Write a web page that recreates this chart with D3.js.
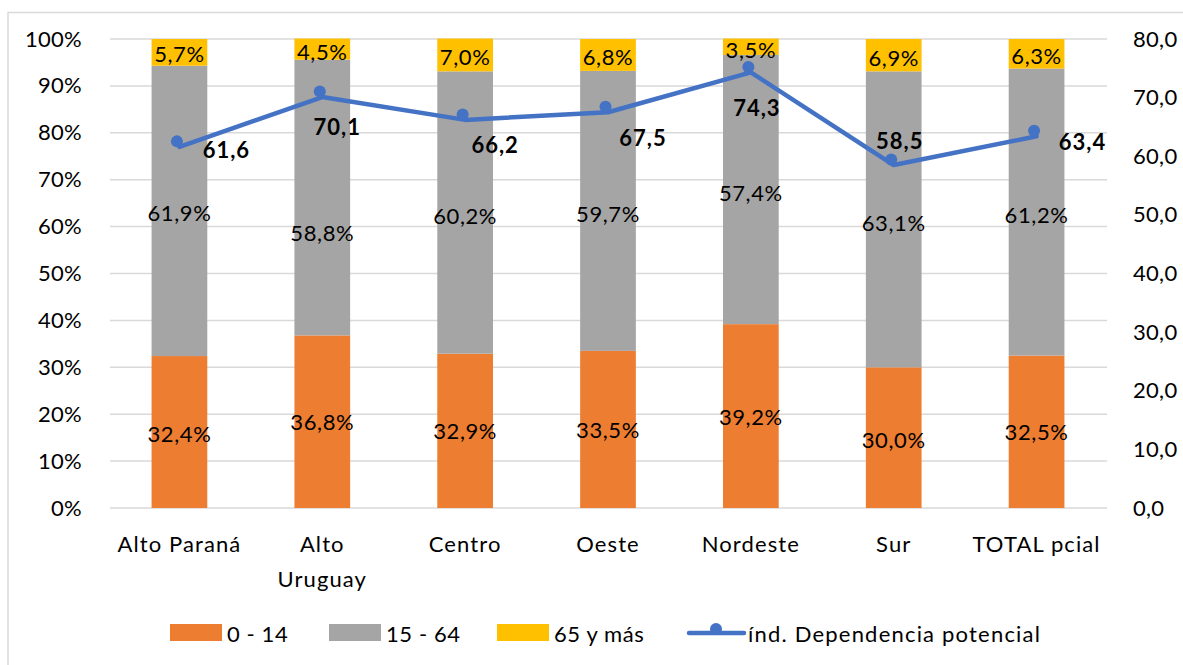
<!DOCTYPE html>
<html>
<head>
<meta charset="utf-8">
<script src="https://cdn.jsdelivr.net/npm/d3@7"></script>
<style>
  html, body { margin: 0; padding: 0; background: #fff; }
  svg { display: block; font-family: Lato, "Open Sans", sans-serif; }
</style>
</head>
<body>
<svg id="chart" width="1183" height="665"></svg>
<script>
// ---- data ----
const categories = ["Alto Paraná", "Alto Uruguay", "Centro", "Oeste", "Nordeste", "Sur", "TOTAL pcial"];
const age0_14   = [32.4, 36.8, 32.9, 33.5, 39.2, 30.0, 32.5];
const age15_64  = [61.9, 58.8, 60.2, 59.7, 57.4, 63.1, 61.2];
const age65plus = [5.7, 4.5, 7.0, 6.8, 3.5, 6.9, 6.3];
const dependencia = [61.6, 70.1, 66.2, 67.5, 74.3, 58.5, 63.4];
const leftTicks  = [0, 10, 20, 30, 40, 50, 60, 70, 80, 90, 100];
const rightTicks = [0, 10, 20, 30, 40, 50, 60, 70, 80];
const seriesNames = ["0 - 14", "15 - 64", "65 y más", "índ. Dependencia potencial"];

// ---- styling ----
const colors = { o: "#ED7D31", g: "#A5A5A5", y: "#FFC000", line: "#4472C4", grid: "#D9D9D9" };
// label placement of the line values (dx, dy) relative to the point
const lineLabelOffsets = [[47, 3], [15, 29], [30, 25], [35, 25], [6, 35], [6, -25], [46, 5]];
// manual vertical shift of bar-segment labels [layer][category]
const segLabelShift = [[1, 0, 0, 0, 0, 2, 0], [2, 35, 3, 3, 3, 3, 2], [1, 2, 2, 2, 3, 2, 2]];

const svg = d3.select("#chart");
const plot = { left: 108, right: 1108, top: 39, bottom: 508 };
const FS = 22;

// border
svg.append("rect").attr("x", 8).attr("y", 12.5).attr("width", 1200).attr("height", 700)
  .attr("fill", "none").attr("stroke", colors.grid).attr("stroke-width", 1.5);

const x = d3.scaleBand().domain(categories).range([plot.left, plot.right])
  .paddingInner(0.61).paddingOuter(0.305);
const y = d3.scaleLinear().domain([0, 100]).range([plot.bottom, plot.top]);
const y2 = d3.scaleLinear().domain([0, 80]).range([plot.bottom, plot.top]);

const fmt1 = v => d3.format(".1f")(v).replace(".", ",");

// gridlines
svg.append("g").selectAll("line").data(leftTicks).join("line")
  .attr("x1", plot.left + 2).attr("x2", plot.right - 1)
  .attr("y1", d => y(d)).attr("y2", d => y(d))
  .attr("stroke", colors.grid).attr("stroke-width", 1.5);

// left axis
const leftAxis = d3.axisLeft(y).tickValues(leftTicks).tickSize(0).tickPadding(0)
  .tickFormat(d => d + "%");
const gL = svg.append("g").attr("transform", `translate(82,0)`).call(leftAxis);
gL.select(".domain").remove();
gL.selectAll("text").attr("font-size", FS).attr("fill", "#000")
  .attr("font-family", "Lato, sans-serif").attr("letter-spacing", 0.3);

// right axis
const rightAxis = d3.axisRight(y2).tickValues(rightTicks).tickSize(0).tickPadding(0)
  .tickFormat(fmt1);
const gR = svg.append("g").attr("transform", `translate(1133,0)`).call(rightAxis);
gR.select(".domain").remove();
gR.selectAll("text").attr("font-size", FS).attr("fill", "#000")
  .attr("font-family", "Lato, sans-serif").attr("letter-spacing", 0.3);

// stacked bars
const rows = categories.map((c, i) => ({ cat: c, a: age0_14[i], b: age15_64[i], c65: age65plus[i] }));
const stack = d3.stack().keys(["a", "b", "c65"])(rows);
const segColors = [colors.o, colors.g, colors.y];

stack.forEach((layer, li) => {
  const g = svg.append("g");
  g.selectAll("rect").data(layer).join("rect")
    .attr("x", d => x(d.data.cat))
    .attr("width", x.bandwidth())
    .attr("y", d => y(d[1]))
    .attr("height", d => y(d[0]) - y(d[1]))
    .attr("fill", segColors[li]);
  g.selectAll("text").data(layer).join("text")
    .attr("x", d => x(d.data.cat) + x.bandwidth() / 2)
    .attr("y", (d, i) => (y(d[0]) + y(d[1])) / 2 + segLabelShift[li][i])
    .attr("text-anchor", "middle").attr("dominant-baseline", "central")
    .attr("font-size", FS).attr("letter-spacing", 0.6).attr("fill", "#000")
    .text(d => fmt1(d[1] - d[0]) + "%");
});

// category labels
const catG = svg.append("g");
categories.forEach(c => {
  const cx = x(c) + x.bandwidth() / 2;
  const lines = c === "Alto Uruguay" ? ["Alto", "Uruguay"] : [c];
  lines.forEach((t, k) => {
    catG.append("text").attr("x", cx).attr("y", 543 + k * 35)
      .attr("text-anchor", "middle").attr("dominant-baseline", "central")
      .attr("font-size", FS).attr("letter-spacing", 1.1).attr("fill", "#000").text(t);
  });
});

// line
const cxOf = i => x(categories[i]) + x.bandwidth() / 2;
const line = d3.line().x((d, i) => cxOf(i)).y(d => y2(d));
svg.append("path").datum(dependencia).attr("d", line)
  .attr("fill", "none").attr("stroke", colors.line).attr("stroke-width", 4.5)
  .attr("stroke-linejoin", "round").attr("stroke-linecap", "round");
svg.append("g").selectAll("circle").data(dependencia).join("circle")
  .attr("cx", (d, i) => cxOf(i) - 2.5).attr("cy", d => y2(d) - 5.5).attr("r", 6)
  .attr("fill", colors.line);
svg.append("g").selectAll("text").data(dependencia).join("text")
  .attr("x", (d, i) => cxOf(i) + lineLabelOffsets[i][0])
  .attr("y", (d, i) => y2(d) + lineLabelOffsets[i][1])
  .attr("text-anchor", "middle").attr("dominant-baseline", "central")
  .attr("font-size", FS).attr("font-weight", "bold").attr("letter-spacing", 1)
  .attr("fill", "#000").text(d => fmt1(d));

// legend
const leg = svg.append("g");
const legItems = [
  { name: seriesNames[0], color: colors.o, x: 170, type: "rect" },
  { name: seriesNames[1], color: colors.g, x: 329, type: "rect" },
  { name: seriesNames[2], color: colors.y, x: 497, type: "rect" },
  { name: seriesNames[3], color: colors.line, x: 689, type: "line" }
];
legItems.forEach(it => {
  if (it.type === "rect") {
    leg.append("rect").attr("x", it.x).attr("y", 624).attr("width", 52).attr("height", 17).attr("fill", it.color);
    leg.append("text").attr("x", it.x + 57).attr("y", 633).attr("dominant-baseline", "central")
      .attr("font-size", FS).attr("letter-spacing", 0.6).attr("fill", "#000").text(it.name);
  } else {
    leg.append("line").attr("x1", it.x).attr("x2", it.x + 55).attr("y1", 633).attr("y2", 633)
      .attr("stroke", it.color).attr("stroke-width", 4.5).attr("stroke-linecap", "round");
    leg.append("circle").attr("cx", it.x + 27).attr("cy", 629).attr("r", 6).attr("fill", it.color);
    leg.append("text").attr("x", it.x + 59).attr("y", 633).attr("dominant-baseline", "central")
      .attr("font-size", FS).attr("letter-spacing", 1.2).attr("fill", "#000").text(it.name);
  }
});
</script>
</body>
</html>
